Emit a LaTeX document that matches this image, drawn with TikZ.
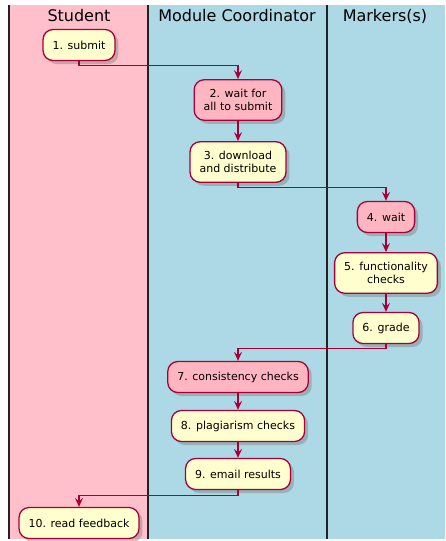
\documentclass[tikz,border=0pt]{standalone}
\usepackage{fontspec}
\setmainfont{DejaVu Sans}
\usetikzlibrary{arrows.meta,shadows}
\definecolor{lanepink}{HTML}{FFC0CB}
\definecolor{laneblue}{HTML}{ADD8E6}
\definecolor{actyellow}{HTML}{FEFECE}
\definecolor{actpink}{HTML}{FFB6C1}
\definecolor{actborder}{HTML}{A80036}
\definecolor{laneline}{HTML}{222222}

\tikzset{
  activity/.style={draw=actborder, line width=1.3pt, rounded corners=10pt,
    fill=actyellow, font=\fontsize{11}{13}\selectfont, align=center,
    inner xsep=9.5pt, inner ysep=9.5pt, minimum height=31pt,
    drop shadow={shadow xshift=3.5pt, shadow yshift=-3.5pt, opacity=0.45}},
  waiting/.style={activity, fill=actpink},
  flow/.style={draw=actborder, line width=1.1pt,
    -{Stealth[length=9pt,width=8pt,inset=3.5pt]}},
  lanetitle/.style={font=\fontsize{16}{19}\selectfont},
  laneedge/.style={draw=laneline, line width=1.6pt}
}

\begin{document}
\begin{tikzpicture}[x=1pt, y=-1pt]
    \useasboundingbox (0,0) rectangle (445,541);

    % Swimlanes
    \fill[lanepink] (9,5) rectangle (148,539);
    \fill[laneblue] (148,5) rectangle (445,539);
    \draw[laneedge] (9,5) -- (9,539);
    \draw[laneedge] (148,5) -- (148,539);
    \draw[laneedge] (327,5) -- (327,539);

    % Lane titles
    \node[lanetitle] (hstudent) at (79,16) {Student};
    \node[lanetitle] (hcoord) at (237,16) {Module Coordinator};
    \node[lanetitle] (hmarker) at (385,16) {Markers(s)};

    % Activities
    \node[activity] (submit) at (79,45) {1. submit};
    \node[waiting] (waitall) at (238,100) {2. wait for\\all to submit};
    \node[activity] (download) at (238,162) {3. download\\and distribute};
    \node[waiting] (waitmark) at (386,217) {4. wait};
    \node[activity] (func) at (386,273) {5. functionality\\checks};
    \node[activity] (grade) at (386,328) {6. grade};
    \node[waiting] (consist) at (238,377) {7. consistency checks};
    \node[activity] (plag) at (238,426) {8. plagiarism checks};
    \node[activity] (email) at (238,474) {9. email results};
    \node[activity] (feedback) at (79,523) {10. read feedback};

    % Flow
    \draw[flow] (submit.south) -- ++(0,4) -| (waitall.north);
    \draw[flow] (waitall) -- (download);
    \draw[flow] (download.south) -- ++(0,5) -| (waitmark.north);
    \draw[flow] (waitmark) -- (func);
    \draw[flow] (func) -- (grade);
    \draw[flow] (grade.south) -- ++(0,4) -| (consist.north);
    \draw[flow] (consist) -- (plag);
    \draw[flow] (plag) -- (email);
    \draw[flow] (email.south) -- ++(0,5) -| (feedback.north);
\end{tikzpicture}
\end{document}
